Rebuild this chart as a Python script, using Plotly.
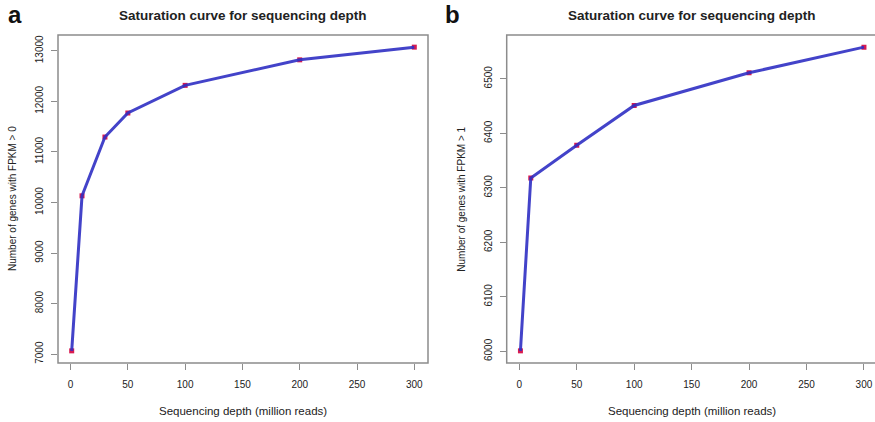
import plotly.graph_objects as go

# Sequencing depth (million reads) and detected gene counts
depth_a = [1, 10, 30, 50, 100, 200, 300]
genes_fpkm_gt0 = [7065, 10132, 11295, 11770, 12317, 12822, 13073]

depth_b = [1, 10, 50, 100, 200, 300]
genes_fpkm_gt1 = [6001, 6318, 6378, 6451, 6511, 6558]

x_ticks = [0, 50, 100, 150, 200, 250, 300]
y_ticks_a = [7000, 8000, 9000, 10000, 11000, 12000, 13000]
y_ticks_b = [6000, 6100, 6200, 6300, 6400, 6500]

panel_title = "Saturation curve for sequencing depth"
x_title = "Sequencing depth (million reads)"
y_title_a = "Number of genes with FPKM > 0"
y_title_b = "Number of genes with FPKM > 1"

W, H = 875, 422
LINE = "#2f2fc4"
MARK = "#d81b50"
BOX = "#8c8c8c"
TXT = "#222222"
FONT = "Liberation Sans, Arial, sans-serif"


def px(x):
    return x / W


def py(y):
    return (H - y) / H


def pad(lo, hi):
    # R-style 4% range extension
    s = hi - lo
    return lo - 0.04 * s, hi + 0.04 * s


fig = go.Figure()

for xs, ys, xa, ya in [(depth_a, genes_fpkm_gt0, "x", "y"),
                       (depth_b, genes_fpkm_gt1, "x2", "y2")]:
    fig.add_trace(go.Scatter(
        x=xs, y=ys, xaxis=xa, yaxis=ya, mode="markers",
        marker=dict(symbol="square", size=5, color=MARK, line=dict(width=0)),
        showlegend=False, hoverinfo="skip"))
    fig.add_trace(go.Scatter(
        x=xs, y=ys, xaxis=xa, yaxis=ya, mode="lines",
        line=dict(color=LINE, width=3), opacity=0.9,
        showlegend=False))

# panel geometry in pixels
box_a = (58, 35, 428, 363)
box_b = (506.7, 35, 877.7, 363)

xr_a = pad(min(depth_a), max(depth_a))
xr_b_full = pad(min(depth_b), max(depth_b))
# right part of panel b runs past the page edge
frac = (W - box_b[0]) / (box_b[2] - box_b[0])
xr_b = (xr_b_full[0], xr_b_full[0] + (xr_b_full[1] - xr_b_full[0]) * frac)

axis_common = dict(
    showgrid=False, zeroline=False, showline=False,
    ticks="outside", ticklen=6, tickwidth=1, tickcolor=BOX,
    tickfont=dict(family=FONT, size=10, color=TXT),
)

fig.update_layout(
    width=W, height=H,
    margin=dict(l=0, r=0, t=0, b=0),
    paper_bgcolor="white", plot_bgcolor="white",
    font=dict(family=FONT, color=TXT),
    xaxis=dict(domain=[px(box_a[0]), px(box_a[2])], range=list(xr_a),
               tickvals=x_ticks, ticktext=[str(v) for v in x_ticks],
               anchor="y", ticklabelstandoff=6, **axis_common),
    yaxis=dict(domain=[py(box_a[3]), py(box_a[1])],
               range=list(pad(min(genes_fpkm_gt0), max(genes_fpkm_gt0))),
               tickvals=y_ticks_a, ticktext=[str(v) for v in y_ticks_a],
               tickangle=-90, anchor="x",
               ticklabelstandoff=4, **axis_common),
    xaxis2=dict(domain=[px(box_b[0]), 1.0], range=list(xr_b),
                tickvals=x_ticks, ticktext=[str(v) for v in x_ticks],
                anchor="y2", ticklabelstandoff=6, **axis_common),
    yaxis2=dict(domain=[py(box_b[3]), py(box_b[1])],
                range=list(pad(min(genes_fpkm_gt1), max(genes_fpkm_gt1))),
                tickvals=y_ticks_b, ticktext=[str(v) for v in y_ticks_b],
                tickangle=-90, anchor="x2",
                ticklabelstandoff=4, **axis_common),
)

# plot frames
for (x0, y0, x1, y1) in [box_a, box_b]:
    fig.add_shape(type="rect", xref="paper", yref="paper",
                  x0=px(x0), x1=px(x1), y0=py(y1), y1=py(y0),
                  line=dict(color=BOX, width=1.5), fillcolor="rgba(0,0,0,0)",
                  layer="below")

annotations = []
for (x0, y0, x1, y1), label, lx, ytitle in [
        (box_a, "a", 15, y_title_a), (box_b, "b", 452, y_title_b)]:
    cx = (x0 + x1) / 2
    cy = (y0 + y1) / 2
    annotations.append(dict(
        text=f"<b>{panel_title}</b>", x=px(cx), y=py(16), xref="paper",
        yref="paper", showarrow=False, xanchor="center", yanchor="middle",
        font=dict(family=FONT, size=13.5, color=TXT)))
    annotations.append(dict(
        text=x_title, x=px(cx), y=py(411), xref="paper", yref="paper",
        showarrow=False, xanchor="center", yanchor="middle",
        font=dict(family=FONT, size=11.5, color=TXT)))
    annotations.append(dict(
        text=ytitle, x=px(x0 - 46), y=py(cy), xref="paper", yref="paper",
        showarrow=False, textangle=-90, xanchor="center", yanchor="middle",
        font=dict(family=FONT, size=10, color=TXT)))
    annotations.append(dict(
        text=f"<b>{label}</b>", x=px(lx), y=py(15), xref="paper",
        yref="paper", showarrow=False, xanchor="center", yanchor="middle",
        font=dict(family=FONT, size=24, color="#111111")))

fig.update_layout(annotations=annotations)

fig.write_html("out.html")
